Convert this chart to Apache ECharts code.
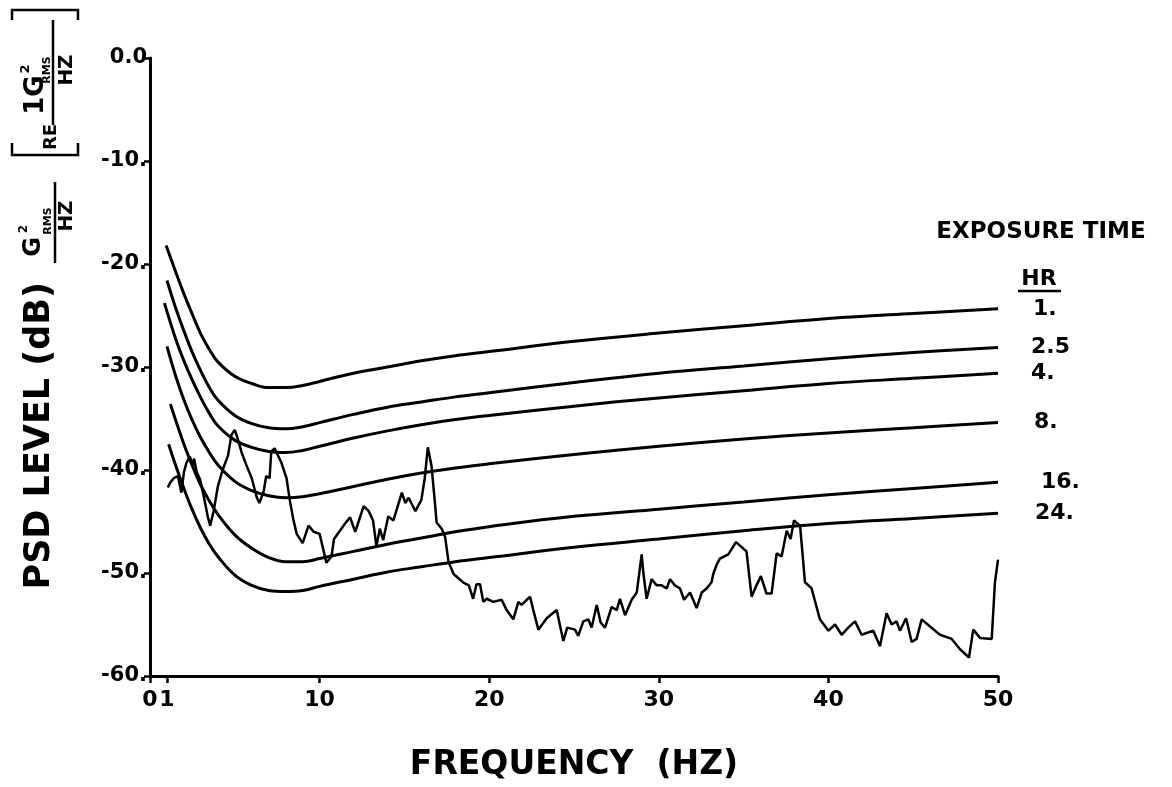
<!DOCTYPE html>
<html>
<head>
<meta charset="utf-8">
<script src="https://cdn.jsdelivr.net/npm/echarts@6/dist/echarts.min.js"></script>
<style>
html,body{margin:0;padding:0;background:#fff;}
#chart{width:1172px;height:787px;}
</style>
</head>
<body>
<div id="chart"></div>
<script>
// ---- DATA ----
const xTickValues = [0, 1, 10, 20, 30, 40, 50];
const exposureLabels = ['1.', '2.5', '4.', '8.', '16.', '24.'];

const curve1hr = [[0.95,-18.2],[1.5,-20.7],[2,-22.9],[2.5,-24.9],[3,-26.8],[3.5,-28.3],[4,-29.5],[5,-30.9],[6,-31.6],[7,-32.0],[8,-32.0],[9,-31.8],[10,-31.4],[12,-30.6],[14,-30.0],[16,-29.4],[18,-28.9],[20,-28.5],[25,-27.5],[30,-26.7],[35,-26.0],[40,-25.3],[45,-24.8],[50,-24.35]];
const curve2p5hr = [[1.0,-21.6],[1.5,-24.2],[2,-26.5],[2.5,-28.6],[3,-30.4],[3.5,-32.0],[4,-33.2],[5,-34.7],[6,-35.5],[7,-35.9],[8,-36.0],[9,-35.8],[10,-35.4],[12,-34.6],[14,-33.9],[16,-33.4],[18,-32.9],[20,-32.5],[25,-31.5],[30,-30.6],[35,-29.9],[40,-29.2],[45,-28.6],[50,-28.1]];
const curve4hr = [[0.85,-23.8],[1.5,-27.2],[2,-29.4],[2.5,-31.3],[3,-33.0],[3.5,-34.5],[4,-35.7],[5,-37.1],[6,-37.8],[7,-38.2],[8,-38.3],[9,-38.1],[10,-37.7],[12,-36.9],[14,-36.2],[16,-35.6],[18,-35.1],[20,-34.7],[25,-33.8],[30,-33.0],[35,-32.3],[40,-31.6],[45,-31.1],[50,-30.6]];
const curve8hr = [[1.0,-28.0],[1.5,-30.8],[2,-33.2],[2.5,-35.2],[3,-36.9],[3.5,-38.3],[4,-39.5],[5,-41.1],[6,-42.0],[7,-42.5],[8,-42.7],[9,-42.6],[10,-42.3],[12,-41.6],[14,-40.9],[16,-40.3],[18,-39.8],[20,-39.4],[25,-38.5],[30,-37.7],[35,-37.0],[40,-36.4],[45,-35.9],[50,-35.4]];
const curve16hr = [[1.2,-33.6],[1.5,-35.1],[2,-37.5],[2.5,-39.6],[3,-41.5],[3.5,-43.0],[4,-44.3],[5,-46.3],[6,-47.6],[7,-48.5],[8,-48.9],[9,-48.9],[10,-48.6],[12,-47.9],[14,-47.2],[16,-46.6],[18,-46.0],[20,-45.5],[25,-44.5],[30,-43.8],[35,-43.1],[40,-42.4],[45,-41.8],[50,-41.2]];
const curve24hr = [[1.1,-37.5],[1.5,-39.5],[2,-41.8],[2.5,-43.9],[3,-45.7],[3.5,-47.2],[4,-48.4],[5,-50.2],[6,-51.2],[7,-51.7],[8,-51.8],[9,-51.7],[10,-51.3],[12,-50.6],[14,-49.9],[16,-49.4],[18,-48.9],[20,-48.5],[25,-47.5],[30,-46.7],[35,-45.9],[40,-45.2],[45,-44.7],[50,-44.2]];

const measuredPsd = [[1.05,-41.7],[1.2,-41.2],[1.4,-40.8],[1.65,-40.6],[1.85,-42.2],[2.0,-40.2],[2.15,-39.3],[2.35,-38.7],[2.5,-39.5],[2.6,-38.9],[2.75,-40.2],[2.95,-40.9],[3.2,-42.8],[3.4,-44.5],[3.55,-45.4],[3.75,-44.0],[4.0,-41.6],[4.3,-39.9],[4.6,-38.6],[4.8,-36.6],[5.0,-36.1],[5.2,-37.1],[5.4,-38.3],[5.7,-39.6],[6.0,-40.8],[6.3,-42.7],[6.45,-43.2],[6.7,-42.1],[6.85,-40.6],[7.05,-40.8],[7.15,-38.2],[7.35,-37.9],[7.75,-39.3],[8.05,-40.8],[8.25,-43.0],[8.45,-44.8],[8.65,-46.2],[9.0,-47.1],[9.35,-45.4],[9.65,-46.0],[10.0,-46.2],[10.4,-49.0],[10.7,-48.4],[10.85,-46.7],[11.2,-45.9],[11.5,-45.2],[11.8,-44.6],[12.1,-46.0],[12.6,-43.5],[12.9,-44.0],[13.15,-44.9],[13.35,-47.4],[13.55,-45.7],[13.75,-46.8],[14.05,-44.5],[14.35,-44.9],[14.85,-42.2],[15.05,-43.2],[15.25,-42.7],[15.65,-44.0],[16.0,-42.9],[16.2,-40.8],[16.38,-37.8],[16.6,-39.6],[16.8,-43.2],[16.9,-45.1],[17.2,-45.7],[17.4,-46.5],[17.6,-48.9],[17.9,-50.1],[18.45,-50.9],[18.8,-51.2],[19.05,-52.5],[19.25,-51.1],[19.46,-51.1],[19.65,-52.8],[19.85,-52.5],[20.24,-52.8],[20.73,-52.6],[21.03,-53.6],[21.42,-54.5],[21.72,-52.8],[21.91,-53.1],[22.41,-52.3],[22.6,-53.6],[22.9,-55.5],[23.39,-54.4],[23.98,-53.6],[24.37,-56.6],[24.6,-55.3],[25.06,-55.5],[25.25,-56.1],[25.55,-54.7],[25.84,-54.5],[26.04,-55.3],[26.34,-53.1],[26.57,-54.8],[26.83,-55.3],[27.22,-53.3],[27.52,-53.6],[27.71,-52.5],[28.01,-54.1],[28.4,-52.6],[28.7,-51.9],[28.99,-48.2],[29.09,-50.0],[29.28,-52.5],[29.58,-50.6],[29.88,-51.2],[30.17,-51.2],[30.47,-51.5],[30.66,-50.6],[30.95,-51.2],[31.25,-51.5],[31.49,-52.6],[31.84,-51.9],[32.23,-53.4],[32.53,-51.9],[32.82,-51.5],[33.11,-50.9],[33.21,-50.1],[33.41,-49.2],[33.6,-48.6],[34.1,-48.2],[34.55,-47.0],[35.17,-47.9],[35.47,-52.3],[35.76,-51.2],[36.02,-50.3],[36.35,-52.0],[36.65,-52.0],[36.95,-48.1],[37.24,-48.4],[37.54,-45.9],[37.77,-46.7],[37.97,-44.9],[38.33,-45.4],[38.62,-50.9],[39.01,-51.5],[39.5,-54.5],[40.0,-55.6],[40.39,-55.0],[40.78,-56.0],[41.17,-55.3],[41.57,-54.7],[41.96,-56.0],[42.65,-55.6],[43.04,-57.1],[43.43,-53.9],[43.73,-55.0],[44.02,-54.7],[44.22,-55.6],[44.58,-54.4],[44.91,-56.7],[45.2,-56.4],[45.5,-54.5],[45.99,-55.2],[46.58,-56.0],[47.27,-56.4],[47.76,-57.4],[48.29,-58.2],[48.54,-55.5],[48.94,-56.3],[49.63,-56.4],[49.82,-50.9],[50.0,-48.7]];

// ---- CHART ----
const FONT = '"DejaVu Sans", "Liberation Sans", sans-serif';
const curves = [curve1hr, curve2p5hr, curve4hr, curve8hr, curve16hr, curve24hr];
const labelOffsets = [27, 25, 25, 28, 35, 29];

const series = curves.map((d, i) => ({
  name: exposureLabels[i],
  type: 'line',
  data: d,
  showSymbol: false,
  smooth: 0.4,
  silent: true,
  lineStyle: { color: '#000', width: 3 },
  endLabel: {
    show: true,
    formatter: p => p.seriesName,
    offset: [labelOffsets[i], 0],
    color: '#000',
    fontFamily: FONT,
    fontWeight: 'bold',
    fontSize: 22
  }
}));
series.push({
  name: 'measured',
  type: 'line',
  data: measuredPsd,
  showSymbol: false,
  smooth: false,
  silent: true,
  lineStyle: { color: '#000', width: 2.5 }
});

function rtext(x, y, text, size, align) {
  return {
    type: 'text', x: x, y: y, rotation: Math.PI / 2, silent: true,
    style: {
      text: text, fill: '#000',
      font: 'bold ' + size + 'px ' + FONT,
      align: align || 'center', verticalAlign: 'middle',
      textAlign: align || 'center', textVerticalAlign: 'middle'
    }
  };
}
function seg(x1, y1, x2, y2, w) {
  return { type: 'line', silent: true, shape: { x1, y1, x2, y2 }, style: { stroke: '#000', lineWidth: w || 2.5 } };
}
function poly(points, w) {
  return { type: 'polyline', silent: true, shape: { points }, style: { stroke: '#000', fill: null, lineWidth: w || 2.5 } };
}

const graphics = [
  { type: 'text', x: 1041, y: 232, silent: true,
    style: { text: 'EXPOSURE TIME', fill: '#000', font: 'bold 23px ' + FONT, align: 'center', verticalAlign: 'middle', textAlign: 'center', textVerticalAlign: 'middle' } },
  { type: 'text', x: 1039, y: 279, silent: true,
    style: { text: 'HR', fill: '#000', font: 'bold 22px ' + FONT, align: 'center', verticalAlign: 'middle', textAlign: 'center', textVerticalAlign: 'middle' } },
  seg(1018, 291, 1061, 291, 2.5),
  // main y title
  rtext(40, 282, 'PSD LEVEL (dB)', 35, 'right'),
  // middle fraction G^2 RMS / HZ
  rtext(34, 247, 'G', 24),
  rtext(24, 229, '2', 12),
  rtext(48, 221, 'RMS', 11),
  seg(55, 182, 55, 263, 2.5),
  rtext(67, 216, 'HZ', 20),
  // bracket fraction [ RE 1G^2 RMS / HZ ]
  poly([[12, 20], [12, 10], [78, 10], [78, 20]], 2.5),
  poly([[12, 143], [12, 155], [78, 155], [78, 143]], 2.5),
  rtext(51, 137, 'RE', 18),
  rtext(36, 95, '1G', 26),
  rtext(26, 69, '2', 13),
  rtext(47, 70, 'RMS', 11),
  seg(53, 20, 53, 125, 2.5),
  rtext(67, 70, 'HZ', 20)
];

const chart = echarts.init(document.getElementById('chart'), null, { renderer: 'canvas' });
chart.setOption({
  animation: false,
  backgroundColor: '#fff',
  color: ['#000'],
  grid: { left: 150, right: 174, top: 58, bottom: 94, containLabel: false },
  xAxis: {
    type: 'value', min: 0, max: 50,
    axisLine: { show: true, onZero: false, lineStyle: { color: '#000', width: 3 } },
    axisTick: { show: true, customValues: xTickValues, length: 7, lineStyle: { color: '#000', width: 2.5 } },
    axisLabel: { customValues: xTickValues, margin: 13, color: '#000', fontFamily: FONT, fontWeight: 'bold', fontSize: 22,
      formatter: v => String(v) },
    splitLine: { show: false },
    name: 'FREQUENCY  (HZ)', nameLocation: 'middle', nameGap: 73,
    nameTextStyle: { color: '#000', fontFamily: FONT, fontWeight: 'bold', fontSize: 33 }
  },
  yAxis: {
    type: 'value', min: -60, max: 0, interval: 10,
    axisLine: { show: true, onZero: false, lineStyle: { color: '#000', width: 3 } },
    axisTick: { show: true, length: 6, lineStyle: { color: '#000', width: 2.5 } },
    axisLabel: { margin: 3, color: '#000', fontFamily: FONT, fontWeight: 'bold', fontSize: 21,
      padding: [0, 0, 10, 0],
      formatter: v => (v === 0 ? '0.0' : v + '.') },
    splitLine: { show: false }
  },
  graphic: graphics,
  series: series
});
</script>
</body>
</html>
